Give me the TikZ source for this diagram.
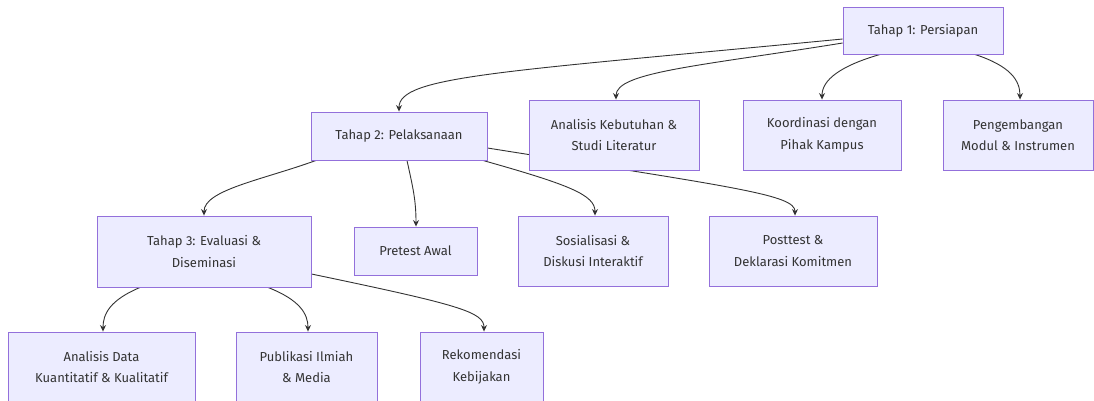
\documentclass[tikz,border=0pt]{standalone}
\usepackage{fontspec}
\setmainfont{Fira Sans}
\usetikzlibrary{arrows.meta,calc,backgrounds}
\definecolor{boxfill}{HTML}{ECECFF}
\definecolor{boxline}{HTML}{9370DB}
\definecolor{ink}{HTML}{333333}
\tikzset{
  box/.style={draw=boxline, fill=boxfill, line width=0.9pt, text=ink, align=center,
    inner sep=0pt, font=\fontsize{13}{21.5}\selectfont},
  conn/.style={draw=ink, line width=0.9pt, -{Stealth[length=6.5pt,width=6pt]}},
}
\begin{document}
\begin{tikzpicture}[x=1pt,y=-1pt]
\useasboundingbox (0,0) rectangle (1094,400);
% nodes
\node[box, minimum width=160, minimum height=47] (t1) at (923,30.5) {Tahap 1: Persiapan};
\node[box, minimum width=176, minimum height=48] (t2) at (399,136) {Tahap 2: Pelaksanaan};
\node[box, minimum width=170, minimum height=70] (ak) at (614,135) {Analisis Kebutuhan \&\\Studi Literatur};
\node[box, minimum width=158, minimum height=70] (ko) at (822,135) {Koordinasi dengan\\Pihak Kampus};
\node[box, minimum width=150, minimum height=70] (pe) at (1018,135) {Pengembangan\\Modul \& Instrumen};
\node[box, minimum width=214, minimum height=71] (t3) at (204,251.5) {Tahap 3: Evaluasi \&\\Diseminasi};
\node[box, minimum width=123, minimum height=48] (pr) at (415.5,251) {Pretest Awal};
\node[box, minimum width=150, minimum height=70] (so) at (593,251) {Sosialisasi \&\\Diskusi Interaktif};
\node[box, minimum width=168, minimum height=70] (po) at (793,251) {Posttest \&\\Deklarasi Komitmen};
\node[box, minimum width=187, minimum height=70] (ad) at (101.5,367) {Analisis Data\\Kuantitatif \& Kualitatif};
\node[box, minimum width=141, minimum height=70] (pu) at (306.5,367) {Publikasi Ilmiah\\\& Media};
\node[box, minimum width=123, minimum height=70] (re) at (481.5,367) {Rekomendasi\\Kebijakan};
% connectors
\begin{scope}[on background layer]
\fill[white] (0,0) rectangle (1094,400);
\draw[conn] ($(t1.west)+(0,8.5)$) .. controls (500,72) and (399,76) .. (t2.north);
\draw[conn] ($(t1.west)+(0,12.5)$) .. controls (700,66) and (616,72) .. ($(ak.north)+(2,0)$);
\draw[conn] ($(t1.south)+(-43,0)$) .. controls (840,66) and (822,80) .. (ko.north);
\draw[conn] ($(t1.south)+(52,0)$) .. controls (1010,66) and (1020,80) .. ($(pe.north)+(2,0)$);
\draw[conn] ($(t2.south)+(-83,0)$) .. controls (262,180) and (204,190) .. (t3.north);
\draw[conn] ($(t2.south)+(8,0)$) .. controls (413,188) and (416,200) .. ($(pr.north)+(0.5,0)$);
\draw[conn] ($(t2.south)+(84,0)$) .. controls (570,185) and (595,195) .. ($(so.north)+(2,0)$);
\draw[conn] ($(t2.east)+(0,12)$) .. controls (740,188) and (795,195) .. ($(po.north)+(2,0)$);
\draw[conn] ($(t3.south)+(-64,0)$) .. controls (110,300) and (103,314) .. ($(ad.north)+(1.5,0)$);
\draw[conn] ($(t3.south)+(64,0)$) .. controls (300,300) and (308,314) .. ($(pu.north)+(1.5,0)$);
\draw[conn] ($(t3.east)+(0,22.5)$) .. controls (460,305) and (484,312) .. ($(re.north)+(2.5,0)$);
\end{scope}
\end{tikzpicture}
\end{document}
